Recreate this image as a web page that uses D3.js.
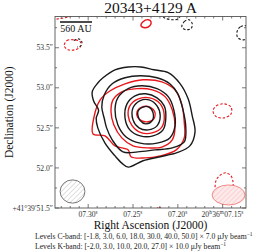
<!DOCTYPE html>
<html><head><meta charset="utf-8">
<script src="https://cdn.jsdelivr.net/npm/d3@7"></script>
<style>body{margin:0;background:#fff}svg{display:block}</style>
</head><body><svg id="c" width="264" height="252"></svg>
<script>
// ---------- data ----------
const title = "20343+4129 A";
const xTitle = "Right Ascension (J2000)";
const yTitle = "Declination (J2000)";
const levelsC = "Levels C-band: [-1.8, 3.0, 6.0, 18.0, 30.0, 40.0, 50.0] × 7.0 μJy beam";
const levelsK = "Levels K-band: [-2.0, 3.0, 10.0, 20.0, 27.0] × 10.0 μJy beam";
const raDomain = [7.337, 7.124];      // RA seconds (20h36m..)
const decDomain = [51.5, 53.89];      // Dec arcsec (+41°39′..)
const raTicks = [7.30, 7.25, 7.20, 7.15];
const raTickLabels = [[["07.30","s"]],[["07.25","s"]],[["07.20","s"]],[["20","h"],["36","m"],["07.15","s"]]];
const raMinor = [7.33,7.32,7.31,7.29,7.28,7.27,7.26,7.24,7.23,7.22,7.21,7.19,7.18,7.17,7.16,7.14,7.13];
const decTicks = [51.5, 52.0, 52.5, 53.0, 53.5];
const decTickLabels = ["+41°39′51.5″","52.0″","52.5″","53.0″","53.5″"];
const decMinor = [51.75, 52.25, 52.75, 53.25, 53.75];
// reference position for contour offsets (arcsec east, arcsec north)
const refRA = 7.25, refDec = 52.5, decDeg = 41.664;
// C-band contours (black)
const cLevel1 = [[0.51,0.45],[0.44,0.56],[0.375,0.625],[0.225,0.725],[0.06,0.76],[-0.10,0.76],[-0.26,0.725],[-0.44,0.69],[-0.59,0.55],[-0.69,0.36],[-0.74,0.15],[-0.775,-0.05],[-0.71,-0.225],[-0.55,-0.31],[-0.34,-0.36],[-0.125,-0.41],[0.06,-0.49],[0.14,-0.44],[0.225,-0.35],[0.35,-0.19],[0.44,0],[0.46,0.12],[0.43,0.22],[0.49,0.33]];
const cLevel2 = [[0.36,0.41],[0.26,0.55],[0.10,0.625],[-0.09,0.65],[-0.30,0.625],[-0.46,0.55],[-0.56,0.425],[-0.625,0.225],[-0.66,0],[-0.64,-0.175],[-0.49,-0.25],[-0.275,-0.275],[-0.06,-0.30],[0.125,-0.30],[0.26,-0.15],[0.33,0.0],[0.36,0.12],[0.39,0.26]];
const cLevel3 = [[0.19,0.375],[0.06,0.49],[-0.11,0.525],[-0.30,0.49],[-0.44,0.39],[-0.51,0.225],[-0.525,0.025],[-0.46,-0.125],[-0.30,-0.19],[-0.09,-0.19],[0.09,-0.11],[0.19,0.04],[0.225,0.225]];
const cLevel4 = [[0.075,0.30],[-0.025,0.40],[-0.16,0.425],[-0.30,0.375],[-0.39,0.275],[-0.41,0.125],[-0.375,-0.025],[-0.25,-0.10],[-0.09,-0.10],[0.04,-0.025],[0.10,0.125]];
const cLevel5 = [[0,0.25],[-0.09,0.34],[-0.20,0.35],[-0.30,0.275],[-0.34,0.15],[-0.30,0.025],[-0.19,-0.025],[-0.075,0],[0,0.10]];
const cLevel6 = [[-0.06,0.20],[-0.125,0.26],[-0.20,0.26],[-0.25,0.19],[-0.24,0.09],[-0.16,0.05],[-0.09,0.09]];
const cNeg1 = [[0.74,1.09],[0.675,1.11],[0.64,1.075],[0.65,1.025],[0.70,1.01]];
const cNeg2 = [[-0.34,1.425],[-0.39,1.375],[-0.475,1.35],[-0.56,1.36],[-0.60,1.41]];
const cNeg3 = [[-0.61,1.26],[-0.64,1.325],[-0.70,1.35],[-0.74,1.30],[-0.725,1.24],[-0.66,1.225]];
const cNeg4 = [[-1.41,1.275],[-1.34,1.26],[-1.30,1.20],[-1.31,1.125],[-1.39,1.10],[-1.45,1.175]];
// K-band contours (red)
const kLevel1 = [[0.41,0.35],[0.29,0.46],[0.10,0.55],[-0.125,0.60],[-0.36,0.575],[-0.525,0.475],[-0.61,0.29],[-0.64,0.075],[-0.64,-0.125],[-0.54,-0.275],[-0.34,-0.35],[-0.15,-0.375],[0.025,-0.36],[0.06,-0.275],[0.225,-0.225],[0.35,-0.10],[0.50,-0.075],[0.49,0.125]];
const kLevel2 = [[0.25,0.35],[0.14,0.45],[-0.05,0.49],[-0.24,0.475],[-0.40,0.39],[-0.49,0.225],[-0.525,0.025],[-0.49,-0.15],[-0.36,-0.24],[-0.19,-0.25],[0,-0.225],[0.14,-0.125],[0.24,0.04],[0.275,0.20]];
const kLevel3 = [[0.04,0.275],[-0.06,0.36],[-0.21,0.375],[-0.34,0.30],[-0.39,0.16],[-0.36,0.01],[-0.25,-0.06],[-0.10,-0.06],[0.01,0.025],[0.06,0.15]];
const kLevel4 = [[-0.05,0.20],[-0.11,0.26],[-0.21,0.26],[-0.275,0.19],[-0.25,0.10],[-0.16,0.075],[-0.075,0.11]];
const kPosSmall = [[-0.10,1.275],[-0.125,1.325],[-0.19,1.35],[-0.225,1.325],[-0.21,1.275],[-0.15,1.25]];
const kNeg1 = [[0.86,1.025],[0.825,1.09],[0.74,1.10],[0.66,1.075],[0.66,1.01],[0.725,0.975],[0.81,0.975]];
const kNeg2 = [[1.01,1.35],[0.94,1.36],[0.85,1.375],[0.76,1.40],[0.71,1.44]];
const kNeg3 = [[-1.0,0.21],[-1.04,0.275],[-1.14,0.30],[-1.225,0.26],[-1.225,0.175],[-1.14,0.125],[-1.04,0.14]];
const kNeg4 = [[-1.025,-0.74],[-1.04,-0.65],[-1.09,-0.59],[-1.16,-0.56],[-1.225,-0.60],[-1.25,-0.675],[-1.25,-0.74]];
const kNeg5 = [[-0.29,-1.025],[-0.325,-0.99],[-0.36,-1.025],[-0.325,-1.06]];
// beams: centre offset (arcsec), full axes (arcsec)
const beamC = {cx:0.756, cy:-0.794, maj:0.31, min:0.29};
const beamK = {cx:-1.194, cy:-0.8375, maj:0.41, min:0.25};
const scaleBarArcsec = 0.40, scaleBarLabel = "560 AU";

// ---------- drawing ----------
const svg = d3.select("#c");
const L=55, R=246, T=16.5, B=208;
const x = d3.scaleLinear().domain(raDomain).range([L,R]);
const y = d3.scaleLinear().domain(decDomain).range([B,T]);
const secPerArcsec = 1/(15*Math.cos(decDeg*Math.PI/180));
const px = p => x(refRA + p[0]*secPerArcsec);
const py = p => y(refDec + p[1]);
const FONT = "'Liberation Serif', 'DejaVu Serif', serif";
const BLACK="#1a1a1a", RED="#e8161b";

const defs = svg.append("defs");
defs.append("clipPath").attr("id","clip").append("rect").attr("x",L).attr("y",T).attr("width",R-L).attr("height",B-T);
function hatch(id, col, bg){
  const p = defs.append("pattern").attr("id",id).attr("patternUnits","userSpaceOnUse").attr("width",3.5).attr("height",3.5)
    .attr("patternTransform","rotate(45)");
  p.append("rect").attr("width",3.5).attr("height",3.5).attr("fill",bg);
  p.append("line").attr("x1",0).attr("y1",0).attr("x2",0).attr("y2",3.5).attr("stroke",col).attr("stroke-width",0.6);
}
hatch("hC","#9a9a9a","#fff");
hatch("hK","#f39a9a","#fde9e9");

const g = svg.append("g").attr("clip-path","url(#clip)");
const closed = d3.line().x(px).y(py).curve(d3.curveCatmullRomClosed.alpha(0.5));
const open = d3.line().x(px).y(py).curve(d3.curveCatmullRom.alpha(0.5));
function draw(data, col, dashed, isClosed){
  g.append("path").attr("d",(isClosed?closed:open)(data)).attr("fill","none").attr("stroke",col)
   .attr("stroke-width",dashed?1.1:1.4).attr("stroke-dasharray",dashed?"2.5,1.8":null).attr("stroke-linejoin","round");
}
[kLevel1,kLevel2,kLevel3,kLevel4,kPosSmall].forEach(d=>draw(d,RED,false,true));
[cLevel1,cLevel2,cLevel3,cLevel4,cLevel5,cLevel6].forEach(d=>draw(d,BLACK,false,true));
[kNeg1,kNeg3,kNeg5].forEach(d=>draw(d,RED,true,true));
[kNeg2,kNeg4].forEach(d=>draw(d,RED,true,false));
[cNeg3,cNeg4].forEach(d=>draw(d,BLACK,true,true));
[cNeg1,cNeg2].forEach(d=>draw(d,BLACK,true,false));

// beams
function beam(b, fill, stroke){
  const cx=px([b.cx,b.cy]), cy=py([b.cx,b.cy]);
  const rx=Math.abs(px([b.cx+b.maj/2,0])-px([b.cx,0])), ry=Math.abs(py([0,b.cy+b.min/2])-py([0,b.cy]));
  g.append("ellipse").attr("cx",cx).attr("cy",cy).attr("rx",rx).attr("ry",ry).attr("fill",fill).attr("stroke",stroke).attr("stroke-width",0.9);
}
beam(beamC,"url(#hC)","#666");
beam(beamK,"url(#hK)","#f07a7a");

// frame + ticks
svg.append("rect").attr("x",L).attr("y",T).attr("width",R-L).attr("height",B-T).attr("fill","none").attr("stroke","#555").attr("stroke-width",0.9);
const tk = svg.append("g").attr("stroke","#555").attr("stroke-width",0.8);
raTicks.forEach(v=>{ tk.append("line").attr("x1",x(v)).attr("x2",x(v)).attr("y1",B).attr("y2",B-4);
  tk.append("line").attr("x1",x(v)).attr("x2",x(v)).attr("y1",T).attr("y2",T+4);});
raMinor.forEach(v=>{ tk.append("line").attr("x1",x(v)).attr("x2",x(v)).attr("y1",B).attr("y2",B-2);
  tk.append("line").attr("x1",x(v)).attr("x2",x(v)).attr("y1",T).attr("y2",T+2);});
decTicks.forEach(v=>{ tk.append("line").attr("y1",y(v)).attr("y2",y(v)).attr("x1",L).attr("x2",L+4);
  tk.append("line").attr("y1",y(v)).attr("y2",y(v)).attr("x1",R).attr("x2",R-4);});
decMinor.forEach(v=>{ tk.append("line").attr("y1",y(v)).attr("y2",y(v)).attr("x1",L).attr("x2",L+2);
  tk.append("line").attr("y1",y(v)).attr("y2",y(v)).attr("x1",R).attr("x2",R-2);});

// tick labels
raTicks.forEach((v,i)=>{
  const t = svg.append("text").attr("x",x(v)).attr("y",B+8.5).attr("text-anchor","middle")
    .attr("font-family",FONT).attr("font-size",7.6).attr("fill","#333");
  raTickLabels[i].forEach(part=>{
    t.append("tspan").text(part[0]);
    t.append("tspan").attr("dy",-2.5).attr("font-size",5.2).text(part[1]);
    t.append("tspan").attr("dy",2.5).attr("font-size",5).text("\u200a");
  });
});
decTicks.forEach((v,i)=>{
  svg.append("text").attr("x",L-2).attr("y",y(v)).attr("dy","0.35em").attr("text-anchor","end")
    .attr("font-family",FONT).attr("font-size",7.6).attr("fill","#333").text(decTickLabels[i]);
});

// titles
svg.append("text").attr("x",(L+R)/2).attr("y",13).attr("text-anchor","middle").attr("font-family",FONT)
  .attr("font-size",15.5).attr("fill","#111").text(title);
svg.append("text").attr("x",(L+R)/2).attr("y",228.5).attr("text-anchor","middle").attr("font-family",FONT)
  .attr("font-size",11.5).attr("fill","#111").text(xTitle);
svg.append("text").attr("transform",`translate(12.5,${(T+B)/2}) rotate(-90)`).attr("text-anchor","middle").attr("font-family",FONT)
  .attr("font-size",11.5).attr("fill","#111").text(yTitle);

// levels text
[[levelsC,239],[levelsK,248.5]].forEach(([s,yy])=>{
  const t = svg.append("text").attr("x",35).attr("y",yy).attr("font-family",FONT).attr("font-size",7.7).attr("fill","#222");
  t.append("tspan").text(s);
  t.append("tspan").attr("dy",-2.8).attr("font-size",5.5).text("\u22121");
});

// scale bar
const sbX0 = L + 5, sbLen = Math.abs(x(refRA + scaleBarArcsec*secPerArcsec) - x(refRA));
svg.append("line").attr("x1",sbX0).attr("x2",sbX0+sbLen).attr("y1",22).attr("y2",22).attr("stroke","#111").attr("stroke-width",1.3);
svg.append("text").attr("x",sbX0+sbLen/2).attr("y",31.5).attr("text-anchor","middle").attr("font-family",FONT)
  .attr("font-size",10).attr("fill","#111").text(scaleBarLabel);
</script></body></html>
